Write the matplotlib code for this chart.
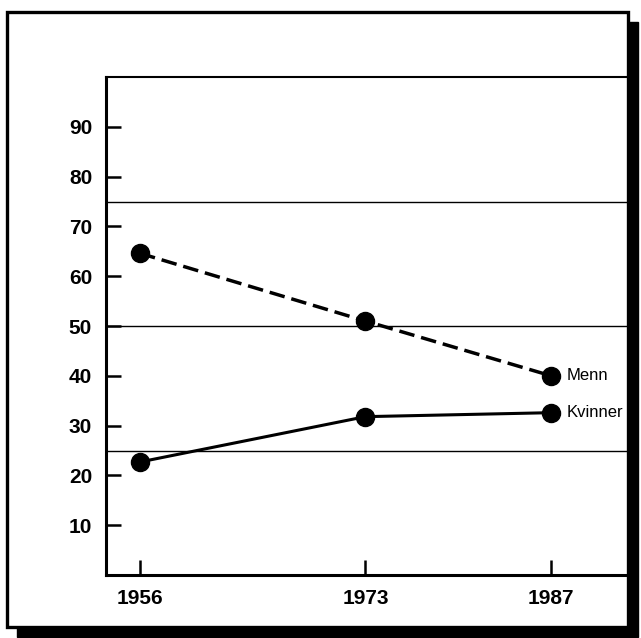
import matplotlib.pyplot as plt
from matplotlib.patches import Rectangle

# Data
years = [1956, 1973, 1987]
menn = [64.6, 51, 40]
kvinner = [22.7, 31.8, 32.6]
yticks = [10, 20, 30, 40, 50, 60, 70, 80, 90]
grid_y = [25, 50, 75]

plt.rcParams['font.family'] = ['Liberation Sans', 'DejaVu Sans']

fig = plt.figure(figsize=(6.41, 6.38), dpi=100)

# Outer frame with drop shadow
fx, fy, fw, fh = 0.0109, 0.0172, 0.9688, 0.964
shadow = Rectangle((fx + 0.0156, fy - 0.0157), fw, fh,
                   transform=fig.transFigure, facecolor='black',
                   edgecolor='black', zorder=0)
frame = Rectangle((fx, fy), fw, fh,
                  transform=fig.transFigure, facecolor='white',
                  edgecolor='black', linewidth=2.4, zorder=1)
fig.patches.extend([shadow, frame])

ax = fig.add_axes([0.1654, 0.0987, 0.8144, 0.7806])
ax.set_facecolor('none')
ax.set_zorder(2)

for g in grid_y:
    ax.axhline(g, color='black', linewidth=1.0, zorder=1)

ax.plot(years, menn, color='black', linewidth=2.5, linestyle=(0, (4.5, 2)),
        marker='o', markersize=13, zorder=3)
ax.plot(years, kvinner, color='black', linewidth=2.2,
        marker='o', markersize=13, zorder=3)

ax.annotate('Menn', (years[-1], menn[-1]), xytext=(11.5, 0),
            textcoords='offset points', va='center', fontsize=12)
ax.annotate('Kvinner', (years[-1], kvinner[-1]), xytext=(11.5, 0),
            textcoords='offset points', va='center', fontsize=12)

ax.set_xlim(1953.44, 1992.8)
ax.set_ylim(0, 100)
ax.set_xticks(years)
ax.set_yticks(yticks)
ax.tick_params(direction='in', length=10.5, width=1.8, labelsize=15, pad=10)
for lab in ax.get_xticklabels() + ax.get_yticklabels():
    lab.set_fontweight('bold')

ax.spines['left'].set_linewidth(2.2)
ax.spines['bottom'].set_linewidth(2.2)
ax.spines['top'].set_linewidth(1.5)
ax.spines['right'].set_visible(False)

fig.savefig('out.png', dpi=100)
